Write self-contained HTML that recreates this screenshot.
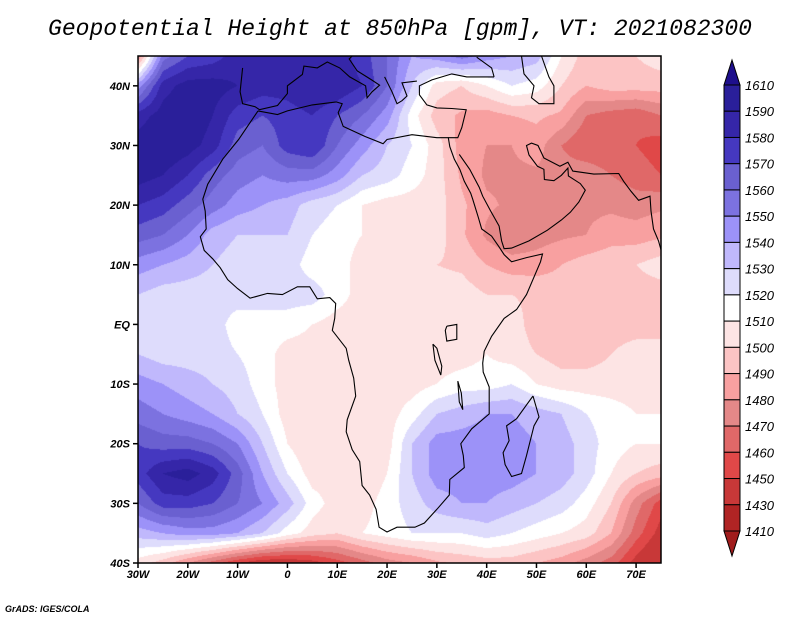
<!DOCTYPE html>
<html><head><meta charset="utf-8"><style>
body{margin:0;background:#fff;width:800px;height:618px;overflow:hidden;position:relative;font-family:"Liberation Sans",sans-serif}
.t{position:absolute;font-style:italic}
.lab{position:absolute;font:bold italic 11px "Liberation Sans",sans-serif;color:#000}
</style></head><body>
<div class="t" style="left:0;width:800px;top:16px;text-align:center;font:italic 23px 'Liberation Mono',monospace;">Geopotential Height at 850hPa [gpm], VT: 2021082300</div>
<canvas id="map" width="523" height="507" style="position:absolute;left:138px;top:56px"></canvas>
<svg id="ov" width="800" height="618" style="position:absolute;left:0;top:0"></svg>
<div class="lab" style="left:5px;top:604px;font-size:9px">GrADS: IGES/COLA</div>
<script>
const lons=[-30,-25,-20,-15,-10,-5,0,5,10,15,20,25,30,35,40,45,50,55,60,65,70,75];
const lats=[45,40,35,30,25,20,15,10,5,0,-5,-10,-15,-20,-25,-30,-35,-40];
const heights=[
[1480,1555,1570,1575,1585,1585,1580,1580,1585,1575,1560,1540,1545,1555,1545,1540,1535,1510,1495,1495,1500,1505],
[1545,1585,1595,1595,1590,1585,1585,1590,1590,1580,1560,1530,1505,1500,1510,1520,1515,1500,1490,1495,1495,1495],
[1585,1595,1600,1590,1575,1570,1575,1580,1570,1560,1545,1515,1495,1488,1485,1490,1492,1488,1470,1465,1462,1470],
[1595,1600,1595,1585,1565,1560,1575,1580,1560,1545,1530,1520,1505,1485,1480,1480,1485,1470,1460,1460,1460,1455],
[1595,1590,1580,1565,1555,1550,1555,1555,1545,1530,1525,1515,1505,1488,1478,1478,1478,1475,1478,1470,1465,1460],
[1580,1575,1565,1555,1545,1540,1535,1525,1520,1510,1505,1505,1505,1492,1482,1478,1475,1475,1478,1478,1475,1478],
[1565,1560,1550,1535,1530,1530,1530,1520,1515,1510,1505,1505,1505,1492,1478,1470,1475,1478,1480,1485,1485,1488],
[1545,1540,1535,1530,1525,1525,1525,1515,1515,1505,1505,1505,1500,1498,1490,1485,1485,1490,1495,1498,1500,1505],
[1530,1525,1525,1525,1525,1525,1525,1525,1515,1505,1505,1505,1505,1505,1500,1500,1498,1495,1495,1495,1495,1495],
[1525,1525,1525,1525,1515,1515,1515,1510,1505,1505,1505,1505,1510,1505,1510,1505,1495,1495,1495,1495,1495,1495],
[1530,1525,1525,1525,1520,1515,1505,1505,1505,1505,1505,1505,1505,1505,1510,1505,1500,1495,1495,1500,1505,1505],
[1545,1540,1535,1530,1525,1515,1505,1500,1505,1505,1505,1505,1510,1515,1515,1520,1510,1505,1505,1505,1505,1505],
[1555,1550,1545,1540,1530,1520,1505,1500,1505,1500,1505,1515,1530,1535,1540,1540,1535,1530,1520,1515,1510,1510],
[1570,1565,1565,1560,1550,1530,1510,1500,1505,1500,1505,1530,1545,1545,1545,1545,1540,1535,1525,1515,1510,1510],
[1575,1590,1595,1585,1565,1540,1520,1505,1505,1500,1510,1530,1545,1545,1545,1545,1540,1535,1525,1510,1500,1495],
[1560,1575,1575,1570,1560,1550,1535,1515,1505,1505,1515,1525,1535,1540,1540,1535,1530,1525,1515,1500,1475,1455],
[1535,1540,1545,1545,1540,1530,1515,1505,1500,1510,1515,1520,1520,1520,1525,1520,1515,1510,1505,1490,1465,1445],
[1505,1495,1480,1465,1450,1440,1440,1445,1455,1465,1475,1480,1488,1492,1495,1495,1490,1485,1475,1465,1445,1430]];
const levels=[1410,1430,1450,1460,1470,1480,1490,1500,1510,1520,1530,1540,1550,1560,1570,1580,1590,1610];
const colors=["#a01c1c","#b02424","#c83838","#e04848","#e06868","#e48888","#f8a0a0","#fcc4c4","#fde4e4","#ffffff","#dedcfc","#c0b8fc","#9c92f8","#7c72e0","#6a60d0","#4538c0","#3526a8","#2a1f9a","#1e0f8c"];
const latTicks=[40,30,20,10,0,-10,-20,-30,-40];
const lonTicks=[-30,-20,-10,0,10,20,30,40,50,60,70];
const X0=138,X1=661,Y0=56,Y1=563;
const xs=lo=>X0+(lo+30)/105*(X1-X0);
const ys=la=>Y1-(la+40)/85*(Y1-Y0);
function hex(c){return [parseInt(c.substr(1,2),16),parseInt(c.substr(3,2),16),parseInt(c.substr(5,2),16)];}
const rgb=colors.map(hex);
const cv=document.getElementById('map'),ctx=cv.getContext('2d');
const W=cv.width,H=cv.height,img=ctx.createImageData(W,H);
for(let py=0;py<H;py++){const la=45-(py+0.5)/H*85;let fy=(45-la)/5;let j=Math.min(Math.floor(fy),lats.length-2);let ty=fy-j;
 for(let px=0;px<W;px++){const lo=-30+(px+0.5)/W*105;let fx=(lo+30)/5;let i=Math.min(Math.floor(fx),lons.length-2);let tx=fx-i;
  const v=(heights[j][i]*(1-tx)+heights[j][i+1]*tx)*(1-ty)+(heights[j+1][i]*(1-tx)+heights[j+1][i+1]*tx)*ty;
  let k=0;while(k<levels.length&&v>=levels[k])k++;const c=rgb[k];const o=(py*W+px)*4;img.data[o]=c[0];img.data[o+1]=c[1];img.data[o+2]=c[2];img.data[o+3]=255;}}
ctx.putImageData(img,0,0);
const NS='http://www.w3.org/2000/svg',ov=document.getElementById('ov');
function mk(t,a){const e=document.createElementNS(NS,t);for(const k in a)e.setAttribute(k,a[k]);ov.appendChild(e);return e;}
const coasts={
africa:[[-5.9,35.8],[-9.8,31],[-13,27.7],[-16,23.5],[-17,21],[-16.5,19],[-16.3,16],[-17.5,14.7],[-16.7,12.4],[-15,11],[-13.5,9.5],[-12,7.5],[-10,6],[-7.5,4.4],[-4,5.2],[-1,5],[2,6.3],[4.5,6.3],[6,4.3],[8.5,4.5],[9.7,3.5],[9.5,1],[9,-1],[11.8,-4],[12.3,-6],[13.3,-9],[13.7,-12],[12,-16],[11.8,-18],[13,-21],[14.5,-23],[15,-27],[16.5,-28.6],[17.8,-31],[18.4,-34],[20,-34.8],[22,-34],[25.6,-34],[27.5,-33.3],[30,-31],[32.5,-28.6],[32.6,-26],[35.5,-24],[35.3,-22],[34.8,-20],[37,-17.5],[40.5,-15],[40.5,-10.5],[39.3,-8],[39.2,-6.5],[39.5,-4.5],[41,-2],[43.5,1],[46,2.5],[48,5],[50.8,10.5],[51.2,11.8],[48,11.2],[45,10.5],[43.5,11.7],[42.5,13],[41,14.8],[39,16],[38.3,18],[37.2,21],[36.8,22],[35.5,24],[34.6,26],[33.5,27.7],[32.6,29.8],[32.3,31.3],[30,31.3],[25,31.8],[20,31],[19.2,30.3],[15.6,31.5],[11.2,33.2],[10.2,35.5],[11,37],[9.8,37.3],[5,36.8],[0,35.8],[-2,35.2],[-5.9,35.8]],
arabia:[[32.3,31.3],[34.2,31.3],[35,33],[35.9,36],[33,36.2],[30,36.3],[28,36.8],[26.5,38.5],[26.5,40],[29,41],[33,42],[36,41.5],[41.5,41.5]],
redsea:[[34.5,28.5],[36.6,26],[38.5,23],[39.2,21.5],[40.8,19],[42.5,16.5],[43,14],[43.5,12.7],[45,12.8],[48.5,14],[52.2,15.8],[55,17.5],[56.8,18.8],[58.5,20.5],[59.8,22.5],[58.8,23.6],[56.4,24.9],[56.3,26.2],[55,25],[53.5,24.1],[51.6,24.3],[51.5,26],[50.2,26.5],[48.5,28.4],[48,30],[49,30.4],[50.3,30],[51.5,27.9],[54.7,26.5],[56.3,27.2],[57.3,25.7],[61.5,25.2],[66.5,25.3],[67.5,24],[69,22.3],[70.5,20.8],[72.8,21.5],[73,19],[73.5,16],[74.5,14],[75,12.5]],
europe:[[-9,43],[-9.5,39],[-9,37],[-6.5,36.5],[-5.6,36],[-2,36.7],[0,38.7],[0,40],[3,41.9],[3.3,43.3],[6,43],[8,44],[10.5,43],[12.5,41.5],[15.7,40],[16,38],[17,39],[18.5,40.1],[16.9,41],[14,42.5],[12.4,44.5],[13,45]],
greece:[[19.5,41.5],[21,39],[22,37],[23,37.5],[24,38.3],[23,40.5],[26,40.8]],
caspian:[[47,45],[47.5,42],[49.5,40],[49,38],[50.5,37],[53.5,37],[53.5,40],[52.5,41.5],[51,45]],
blacksea:[[41.5,41.5],[41,43],[38,44.8]],
madagascar:[[49.3,-12],[50.5,-15.5],[49.5,-17],[48,-22],[47,-25],[45,-25.5],[43.7,-23.5],[43.3,-21.5],[44.5,-19.5],[44,-17],[46,-15.8],[48,-13.5],[49.3,-12]],
victoria:[[32,-0.3],[34,0],[34,-2.5],[32,-2.8],[31.7,-1],[32,-0.3]],
tanganyika:[[29.2,-3.3],[29.6,-6],[30.8,-8.5],[31,-7],[30,-4],[29.2,-3.3]],
malawi:[[34.2,-9.5],[34.9,-11.5],[35.2,-14.3],[34.5,-13],[34.2,-9.5]]};
for(const k in coasts){const p=mk('polyline',{points:coasts[k].map(q=>xs(q[0]).toFixed(1)+','+ys(q[1]).toFixed(1)).join(' '),fill:'none',stroke:'#000','stroke-width':1.1});

}
const fr=mk('rect',{x:X0,y:Y0,width:X1-X0,height:Y1-Y0,fill:'none',stroke:'#000','stroke-width':1.5});


latTicks.forEach(la=>{const y=ys(la);mk('line',{x1:X0-5,x2:X0,y1:y,y2:y,stroke:'#000','stroke-width':1.5});
 const t=mk('text',{x:X0-8,y:y+4,'text-anchor':'end','font-family':'Liberation Sans, sans-serif','font-size':11,'font-weight':'bold','font-style':'italic'});
 t.textContent=la===0?'EQ':Math.abs(la)+(la>0?'N':'S');
 
 });
lonTicks.forEach(lo=>{const x=xs(lo);mk('line',{x1:x,x2:x,y1:Y1,y2:Y1+5,stroke:'#000','stroke-width':1.5});
 const t=mk('text',{x:x,y:Y1+15,'text-anchor':'middle','font-family':'Liberation Sans, sans-serif','font-size':11,'font-weight':'bold','font-style':'italic'});
 t.textContent=lo===0?'0':Math.abs(lo)+(lo>0?'E':'W');
 
 });
const cbX=724,cbW=16,cbTop=85,cbBot=531,nb=levels.length-1,bh=(cbBot-cbTop)/nb;
const tu=mk('polygon',{points:`${cbX},${cbTop} ${cbX+cbW},${cbTop} ${cbX+cbW/2},${cbTop-25}`,fill:colors[colors.length-1],stroke:'#000'});


const td=mk('polygon',{points:`${cbX},${cbBot} ${cbX+cbW},${cbBot} ${cbX+cbW/2},${cbBot+25}`,fill:colors[0],stroke:'#000'});


for(let i=0;i<nb;i++){const r=mk('rect',{x:cbX,y:cbTop+i*bh,width:cbW,height:bh,fill:colors[nb-i],stroke:'#000','stroke-width':1});
 
 }
levels.slice().reverse().forEach((v,i)=>{const t=mk('text',{x:cbX+cbW+5,y:cbTop+i*bh+5,'font-family':'Liberation Sans, sans-serif','font-size':13,'font-style':'italic'});
 t.textContent=v;
 
 });
</script>
</body></html>
